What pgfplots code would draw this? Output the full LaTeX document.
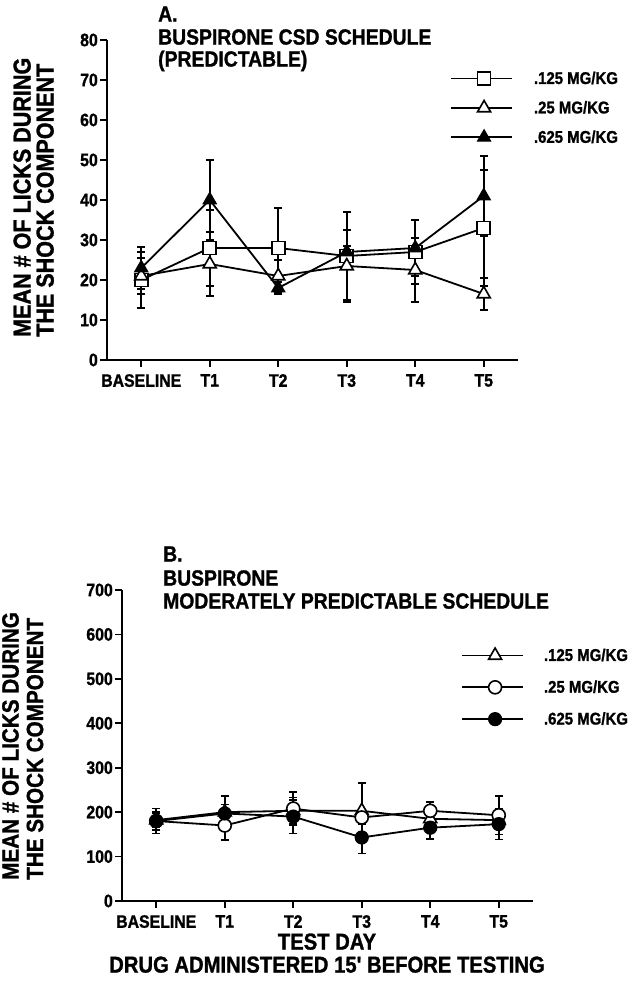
\documentclass[border=0pt]{standalone}
\usepackage{pgfplots}
\pgfplotsset{compat=1.18}
\usepackage{fontspec}
\newfontfamily\mf{Liberation Sans}[FakeStretch=0.88, BoldFeatures={FakeBold=1.2}]
\newcommand\fs[1]{\mf\fontsize{#1}{#1}\selectfont\bfseries}
\pgfplotsset{
  panel/.style={
    scale only axis, width=411pt,
    axis x line*=bottom, axis y line*=left,
    axis line style={-, line width=2.4pt},
    xmin=-0.5, xmax=5.5, ymin=0,
    xtick={0,1,2,3,4,5}, xticklabels={BASELINE,T1,T2,T3,T4,T5},
    tick align=outside, major tick length=7pt,
    every tick/.style={line width=1.6pt, black},
    tick label style={font=\fs{18}, inner sep=0pt},
    xticklabel style={yshift=-7pt},
    yticklabel style={xshift=-2pt},
    /pgf/number format/assume math mode=true,
    clip=false,
    legend cell align=left,
    legend image code/.code={\draw[mark repeat=2,mark phase=2,##1] plot coordinates {(0pt,0pt)(33pt,0pt)(61pt,0pt)};},
    error bars/y dir=both, error bars/y explicit,
    error bars/error bar style={line width=1.6pt, solid, black},
    error bars/error mark options={rotate=90, mark size=4pt, line width=1.6pt, solid, black},
  },
  ser/.style={black, line width=1.8pt},
  osq/.style={ser, mark=square*, mark size=6.5pt, mark options={fill=white, draw=black, line width=1.6pt}},
  otri/.style={ser, mark=triangle*, mark size=7.5pt, mark options={fill=white, draw=black, line width=1.6pt}},
  ftri/.style={ser, mark=triangle*, mark size=7.5pt, mark options={fill=black, draw=black, line width=1.2pt}},
  ocirc/.style={ser, mark=*, mark size=6.5pt, mark options={fill=white, draw=black, line width=1.6pt}},
  fcirc/.style={ser, mark=*, mark size=6.5pt, mark options={fill=black, draw=black, line width=1.2pt}},
}
\begin{document}
\begin{tikzpicture}
\path[use as bounding box] (0pt,0pt) rectangle (634pt,982pt);

% ---------- Panel A ----------
\begin{axis}[panel, at={(107pt,622pt)}, anchor=south west,
  height=320pt, ymax=80, ytick={0,10,...,80},
  legend style={at={(axis description cs:0.8345,0.7875)}, anchor=west,
    draw=none, fill=none, inner sep=0pt, font=\fs{17},
    row sep=15pt, nodes={inner sep=0pt, anchor=west},
    /tikz/every odd column/.append style={column sep=21pt}},
]
\addplot[osq] coordinates {
 (0,20) +- (0,7) (1,28) +- (0,9.5) (2,28) +- (0,10) (3,26) +- (0,11) (4,27) +- (0,8) (5,33) +- (0,14.5)};
\addlegendentry{.125 MG/KG}
\addplot[otri] coordinates {
 (0,21) +- (0,4.5) (1,24) +- (0,8) (2,21) +- (0,4) (3,23.5) +- (0,9) (4,22.5) +- (0,8) (5,16.5) +- (0,4)};
\addlegendentry{.25 MG/KG}
\addplot[ftri] coordinates {
 (0,23) +- (0,5.3) (1,40) +- (0,10) (2,18) +- (0,1.5) (3,27) +- (0,1.5) (4,28) +- (0,7) (5,41) +- (0,10)};
\addlegendentry{.625 MG/KG}
\end{axis}

% ---------- Panel B ----------
\begin{axis}[panel, at={(122pt,81pt)}, anchor=south west,
  height=311pt, ymax=700, ytick={0,100,...,700},
  legend style={at={(axis description cs:0.8248,0.688)}, anchor=west,
    draw=none, fill=none, inner sep=0pt, font=\fs{17},
    row sep=18pt, nodes={inner sep=0pt, anchor=west},
    /tikz/every odd column/.append style={column sep=20pt}},
]
\addplot[otri] coordinates {
 (0,182) +- (0,15) (1,200) +- (0,36) (2,203) +- (0,30) (3,203) +- (0,62) (4,185) +- (0,15) (5,182) +- (0,20)};
\addlegendentry{.125 MG/KG}
\addplot[ocirc] coordinates {
 (0,180) +- (0,28) (1,170) +- (0,33) (2,208) +- (0,37) (3,188) +- (0,15) (4,203) +- (0,20) (5,193) +- (0,43)};
\addlegendentry{.25 MG/KG}
\addplot[fcirc] coordinates {
 (0,180) +- (0,20) (1,197) +- (0,20) (2,190) +- (0,38) (3,143) +- (0,36) (4,165) +- (0,26) (5,173) +- (0,35)};
\addlegendentry{.625 MG/KG}
\end{axis}

% ---------- Titles ----------
\begin{scope}[every node/.style={anchor=west, inner sep=0pt, text depth=0pt, text height=0.72em, font=\fs{22}}]
\node at (158pt,964pt) {A.};
\node at (158pt,941pt) {BUSPIRONE CSD SCHEDULE};
\node at (158pt,919pt) {(PREDICTABLE)};
\node at (163pt,424pt) {B.};
\node at (163pt,400pt) {BUSPIRONE};
\node at (163pt,377pt) {MODERATELY PREDICTABLE SCHEDULE};
\end{scope}

% ---------- Axis labels ----------
\begin{scope}[every node/.style={inner sep=0pt, text depth=0pt, text height=0.72em, font=\fs{23.5}}]
\node[rotate=90, anchor=west, font=\fs{24.5}] at (27pt,645pt) {MEAN \# OF LICKS DURING};
\node[rotate=90, anchor=west, font=\fs{24.5}] at (50pt,645pt) {THE SHOCK COMPONENT};
\node[rotate=90, anchor=west] at (15pt,102pt) {MEAN \# OF LICKS DURING};
\node[rotate=90, anchor=west] at (39.5pt,102pt) {THE SHOCK COMPONENT};
\node[font=\fs{23}] at (327pt,36pt) {TEST DAY};
\node[font=\fs{23}] at (327pt,13pt) {DRUG ADMINISTERED 15' BEFORE TESTING};
\end{scope}
\end{tikzpicture}
\end{document}
